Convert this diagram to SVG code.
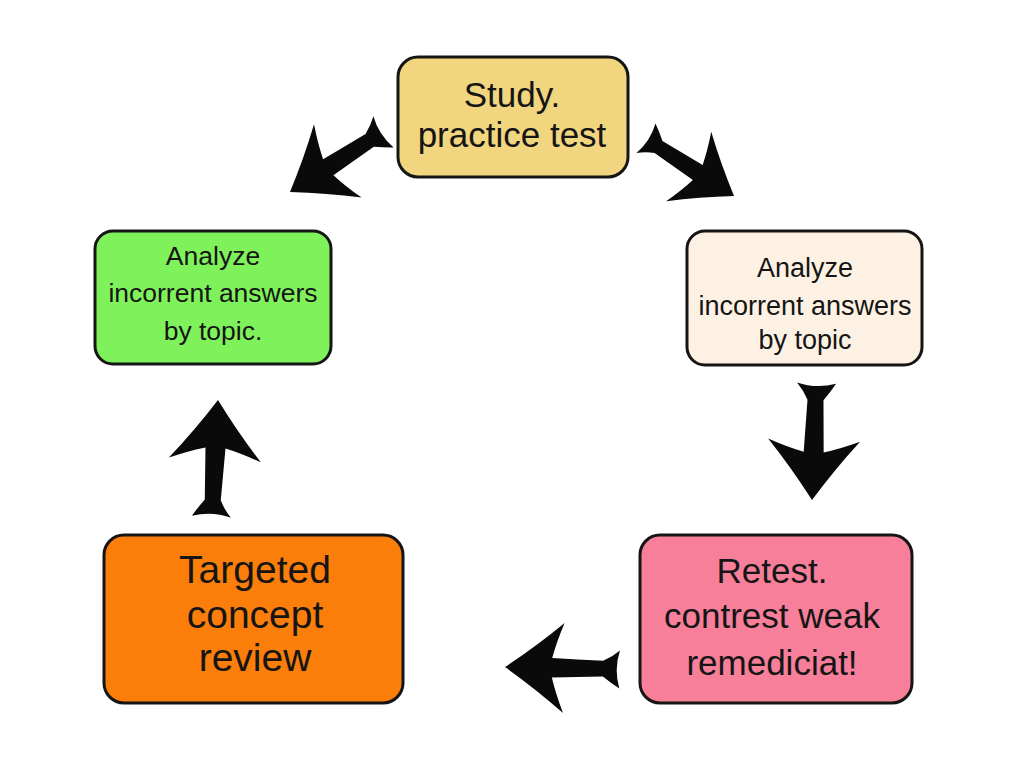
<svg xmlns="http://www.w3.org/2000/svg" width="1024" height="768" viewBox="0 0 1024 768">
<defs>
<style>
.box{stroke:#151515;stroke-width:3}
.t{font-family:"Liberation Sans","DejaVu Sans",sans-serif;fill:#151515;text-anchor:middle}
.arrow{fill:#0a0a0a}
</style>
<path id="arr" d="M0,0 Q-32,-22 -60,-46 Q-52,-26 -48,-10 Q-74,-9 -100,-8 Q-109,-15 -117,-20 Q-111,0 -117,19 Q-109,12 -100,8 Q-74,9 -48,10 Q-52,26 -60,46 Q-32,22 0,0 Z"/>
</defs>
<rect width="1024" height="768" fill="#ffffff"/>
<g id="connectors" class="arrow">
<use href="#arr" transform="translate(290,192) rotate(147) scale(0.95)"/>
<use href="#arr" transform="translate(734,196) rotate(33) scale(0.9)"/>
<use href="#arr" transform="translate(812,500) rotate(92)"/>
<use href="#arr" transform="translate(505,667) rotate(181) scale(0.98)"/>
<use href="#arr" transform="translate(218,400) rotate(-87)"/>
</g>
<g id="node-study">
<rect class="box" x="398" y="57" width="230" height="120" rx="20" fill="#f1d67f"/>
<text class="t" x="512" y="107" font-size="35">Study.</text>
<text class="t" x="512" y="147" font-size="35">practice test</text>
</g>
<g id="node-analyze-left">
<rect class="box" x="95" y="231" width="236" height="133" rx="18" fill="#7ff25b"/>
<text class="t" x="213" y="265" font-size="26.5">Analyze</text>
<text class="t" x="213" y="302" font-size="26.5">incorrent answers</text>
<text class="t" x="213" y="340" font-size="26.5">by topic.</text>
</g>
<g id="node-analyze-right">
<rect class="box" x="687" y="231" width="235" height="134" rx="18" fill="#fdf1e3"/>
<text class="t" x="805" y="277" font-size="27">Analyze</text>
<text class="t" x="805" y="315" font-size="27">incorrent answers</text>
<text class="t" x="805" y="349" font-size="27">by topic</text>
</g>
<g id="node-retest">
<rect class="box" x="640" y="535" width="272" height="168" rx="20" fill="#f77f99"/>
<text class="t" x="772" y="583" font-size="35">Retest.</text>
<text class="t" x="772" y="628" font-size="35">contrest weak</text>
<text class="t" x="772" y="675" font-size="35">remediciat!</text>
</g>
<g id="node-review">
<rect class="box" x="104" y="535" width="299" height="168" rx="20" fill="#fb7d0a"/>
<text class="t" x="255" y="583" font-size="39">Targeted</text>
<text class="t" x="255" y="628" font-size="39">concept</text>
<text class="t" x="255" y="671" font-size="39">review</text>
</g>
</svg>
